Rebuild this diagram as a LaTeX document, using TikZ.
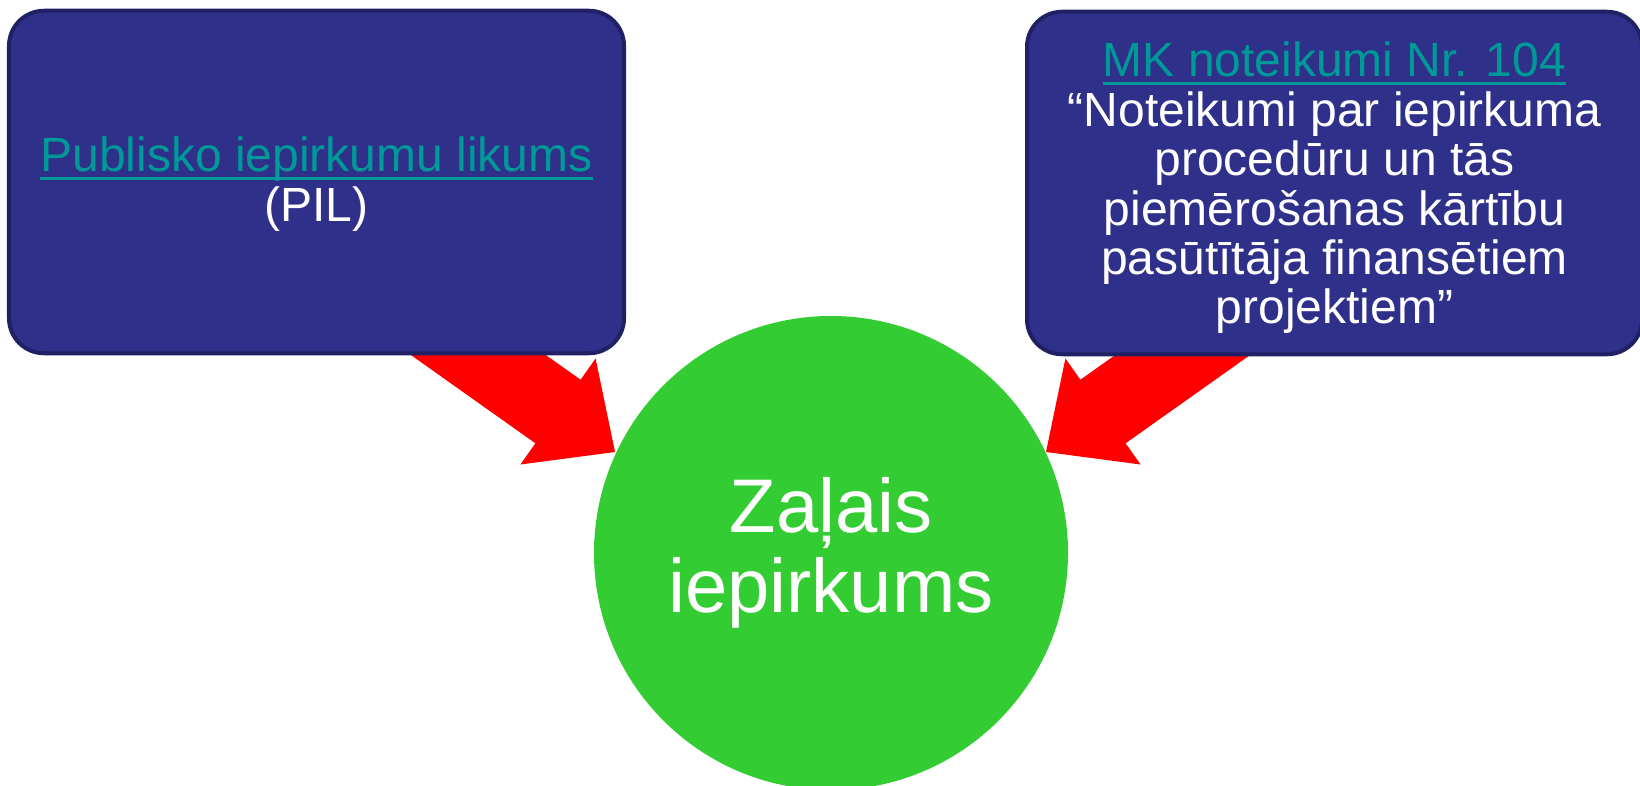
\documentclass[tikz,border=0pt]{standalone}
\usepackage{fontspec}
\setmainfont{Liberation Sans}[Ligatures=NoCommon]
\definecolor{boxfill}{RGB}{46,48,138}
\definecolor{boxline}{RGB}{32,33,100}
\definecolor{linkteal}{RGB}{0,153,153}
\definecolor{circgreen}{RGB}{51,204,51}
\definecolor{arrred}{RGB}{255,0,0}
\newsavebox{\lnkbox}
\newcommand{\lnk}[1]{{\color{linkteal}\sbox{\lnkbox}{#1}\rlap{\rule[-4.1bp]{\wd\lnkbox}{1.6bp}}\usebox{\lnkbox}}}
\tikzset{
  lawbox/.style={draw=boxline, fill=boxfill, line width=2bp, rounded corners=17.5bp,
    minimum width=307.5bp, minimum height=171.25bp, inner sep=0pt},
  lawtext/.style={inner sep=0pt, align=center, text=white, font=\fontsize{24bp}{24.7bp}\selectfont},
  greencirc/.style={circle, fill=circgreen, minimum size=237bp, inner sep=0pt, align=center,
    text=white, font=\fontsize{38bp}{40.25bp}\selectfont},
  blockarrow/.style={fill=arrred, draw=none}
}
\begin{document}
\begin{tikzpicture}[x=0.5bp, y=-0.5bp]
\useasboundingbox (0,0) rectangle (1640,786);
% arrows (behind boxes)
\coordinate (tipL) at (615,452);
\coordinate (tipR) at (1046,452);
\fill[blockarrow] (331.6,298.8) -- (535.4,443.3) -- (520.4,464.5) -- (tipL) -- (595.6,358.5) -- (580.6,379.7) -- (376.6,235.2) -- cycle;
\fill[blockarrow] (1329.4,298.8) -- (1125.6,443.3) -- (1140.6,464.5) -- (tipR) -- (1065.4,358.5) -- (1080.4,379.7) -- (1284.4,235.2) -- cycle;
% circle
\node[greencirc] (zi) at (831,553) {Zaļais\\iepirkums};
% boxes
\node[lawbox] (pil) at (316.5,182) {};
\node[lawtext] (piltxt) at ([yshift=-1bp]pil.center) {\lnk{Publisko iepirkumu likums}\\(PIL)};
\node[lawbox] (mk) at (1334.5,183) {};
\node[lawtext] (mktxt) at ([yshift=-2.5bp]mk.center) {\lnk{MK noteikumi Nr. 104}\\“Noteikumi par iepirkuma\\procedūru un tās\\piemērošanas kārtību\\pasūtītāja finansētiem\\projektiem”};
\end{tikzpicture}
\end{document}
